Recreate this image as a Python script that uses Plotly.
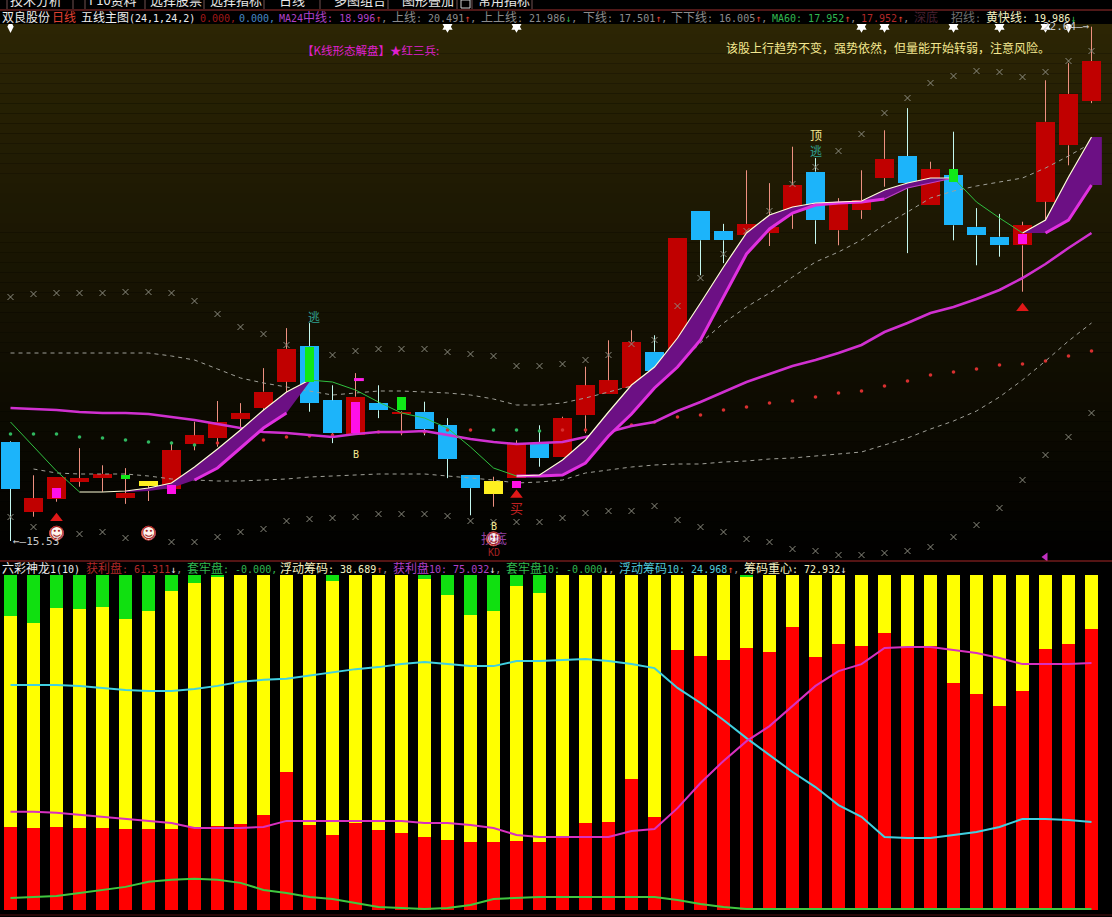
import re
import plotly.graph_objects as go

# ---------- price panel data ----------
open_ = [16.92,15.94,16.12,16.36,16.41,16.13,16.30,16.26,16.89,16.97,17.24,17.39,17.76,18.26,17.50,17.01,
         17.46,17.31,17.34,17.15,16.45,16.37,16.41,16.90,16.71,17.29,17.59,17.67,18.18,18.18,20.15,19.87,
         19.81,19.84,20.16,20.70,19.88,20.16,20.61,20.92,20.23,20.65,19.93,19.79,19.67,20.28,21.07,21.69]
close = [16.26,16.13,16.43,16.41,16.47,16.20,16.37,16.80,17.01,17.20,17.32,17.62,18.22,17.46,17.04,17.55,
         17.36,17.34,17.10,16.68,16.27,16.19,16.90,16.69,17.25,17.71,17.78,18.32,17.91,19.77,19.74,19.74,
         19.97,19.93,20.51,20.02,20.26,20.30,20.88,20.54,20.74,19.95,19.81,19.67,19.95,21.40,21.79,22.25]
high  = [16.93,16.45,16.43,16.83,16.59,16.55,16.37,16.92,17.20,17.49,17.46,17.95,18.51,18.58,17.71,17.88,
         17.71,17.35,17.48,17.25,16.45,16.43,16.94,17.15,17.27,17.97,18.34,18.48,18.41,19.77,20.15,19.97,
         20.72,20.54,21.05,20.89,20.33,20.72,21.28,21.59,20.84,21.26,20.19,20.11,20.00,21.98,22.22,22.73]
low   = [15.53,15.87,16.08,16.29,16.22,16.05,16.09,16.26,16.80,16.85,17.08,17.32,17.60,17.34,16.90,17.01,
         17.25,17.01,17.01,16.41,15.89,16.01,16.41,16.57,16.71,17.04,17.59,17.67,17.91,18.11,19.25,19.42,
         19.74,19.66,19.90,19.69,19.67,20.04,20.49,19.56,20.23,19.74,19.39,19.51,19.02,20.02,20.79,21.66]
yellow_days = [6, 21]

ma24 = [17.392,17.378,17.364,17.336,17.322,17.322,17.308,17.266,17.224,17.168,17.112,17.056,17.042,17.014,16.986,17.028,
        17.056,17.056,17.070,17.014,16.958,16.916,16.888,16.902,16.916,16.986,17.056,17.140,17.196,17.350,17.476,17.616,
        17.756,17.868,17.980,18.064,18.162,18.274,18.456,18.582,18.722,18.806,18.918,19.044,19.212,19.408,19.632,19.842]
fast = [17.196,16.846,16.510,16.216,16.216,16.230,16.272,16.342,16.566,16.818,17.084,17.364,17.616,17.784,17.756,17.644,
        17.476,17.322,17.252,17.112,16.846,16.552,16.440,16.454,16.664,16.944,17.336,17.714,17.966,18.372,18.862,19.366,
        19.842,20.094,20.206,20.262,20.276,20.290,20.444,20.542,20.612,20.612,20.276,20.052,19.842,20.024,20.626,21.186]
slow = [None,None,None,None,None,16.216,16.230,16.272,16.384,16.552,16.832,17.112,17.322,17.756,None,None,
        None,None,None,None,None,None,16.440,16.440,16.454,16.622,17.000,17.308,17.672,17.966,18.344,18.946,
        19.548,19.898,20.122,20.234,20.262,20.276,20.318,20.472,20.542,20.612,None,None,19.842,19.842,20.024,20.514]
upper = [18.162,18.162,18.162,18.162,18.162,18.162,18.162,18.120,18.064,17.938,17.812,17.742,17.686,17.630,17.574,17.602,
         17.630,17.630,17.616,17.602,17.574,17.518,17.434,17.434,17.462,17.532,17.616,17.700,17.812,17.994,18.302,18.582,
         18.806,19.002,19.226,19.436,19.576,19.744,19.954,20.136,20.332,20.430,20.500,20.556,20.612,20.752,20.920,21.102]
lower = [None,16.538,16.482,16.468,16.468,16.468,16.440,16.398,16.384,16.370,16.370,16.384,16.398,16.426,16.440,16.454,
         16.468,16.468,16.468,16.440,16.412,16.384,16.342,16.356,16.384,16.482,16.524,16.566,16.594,16.608,16.608,16.636,
         16.650,16.678,16.692,16.720,16.748,16.776,16.874,16.972,17.098,17.210,17.350,17.546,17.784,18.050,18.330,18.582]
upper2 = [18.946,18.988,19.002,19.002,19.002,19.016,19.016,19.002,18.890,18.708,18.526,18.428,18.274,18.204,18.134,18.190,
          18.218,18.218,18.218,18.176,18.148,18.120,17.980,17.980,18.008,18.064,18.134,18.288,18.344,18.820,19.212,19.548,
          19.870,20.150,20.528,20.766,20.990,21.228,21.522,21.732,21.942,22.040,22.110,22.096,22.026,22.096,22.250,22.390]
lower2 = [15.866,15.726,15.614,15.628,15.656,15.572,15.586,15.516,15.516,15.586,15.656,15.698,15.810,15.838,15.852,15.866,
          15.908,15.908,15.908,15.880,15.810,15.796,15.796,15.796,15.852,15.922,15.950,15.950,16.020,15.824,15.726,15.656,
          15.558,15.516,15.418,15.390,15.334,15.334,15.362,15.390,15.446,15.586,15.754,15.992,16.384,16.734,16.986,17.322]
ma60 = [17.028,17.028,17.028,16.986,16.972,16.944,16.916,16.902,16.874,16.902,16.902,16.944,16.986,17.000,17.014,17.056,
        17.056,17.056,17.056,17.084,17.084,17.084,17.084,17.070,17.084,17.084,17.126,17.154,17.196,17.266,17.294,17.364,
        17.406,17.462,17.490,17.546,17.602,17.630,17.700,17.770,17.854,17.896,17.938,17.994,18.008,18.050,18.120,18.190]
ma60_falling_days = [0,1,2,3,4,5,6,7,8,21,22,23]

magenta_days = [2,7,15,22,44]
magenta_top = [16.27,16.31,17.47,16.37,19.83]
magenta_bot = [16.13,16.19,17.04,16.27,19.69]
green_days = [5,13,17,41]
green_top = [16.45,18.24,17.55,20.74]
green_bot = [16.40,17.75,17.36,20.56]

star_days = [19,22,37,38,41,43,45]
diamond_days = [0,46]
rising_runs = [(3,13),(22,41),(44,47)]
falling_runs = [(0,3),(13,22),(41,44)]
ribbon_runs = [(5,13),(22,41),(44,47)]
bold_runs = [(8,12),(22,38),(45,47)]
thin_runs = [(38,41)]
buy_days = [2,22,44]; buy_price = [15.85,16.174,18.79]
smile_days = [2,6,21]; smile_price = [15.64,15.64,15.56]

# ---------- chip panel data ----------
profit = [24.8,24.5,24.8,24.5,24.5,24.2,24.2,24.2,24.8,25.1,25.7,28.4,41.2,25.4,22.4,26.0,
          23.9,23.0,21.8,20.9,20.3,20.3,20.6,20.3,22.1,26.0,26.3,39.1,27.8,77.6,75.8,74.6,
          78.2,77.0,84.5,75.5,79.4,78.8,82.7,78.5,78.8,67.8,64.5,60.9,65.4,77.9,79.4,83.9]
float_top = [87.8,85.7,90.1,89.9,90.4,86.9,89.3,95.2,97.6,99.4,100,100,100,100,98.2,100,
             100,100,98.8,94.0,88.1,89.3,96.7,94.6,100,100,100,100,100,100,100,100,
             99.4,100,100,100,100,100,100,100,100,100,100,100,100,100,100,100]
float_line = [67.2,67.2,67.2,66.9,66.3,65.7,65.4,65.4,66.0,66.9,68.1,68.7,69.0,69.9,71.0,71.9,
              72.5,73.4,74.0,73.4,72.8,72.8,74.3,74.3,74.6,74.9,74.3,73.4,72.2,66.3,61.8,56.7,
              51.3,46.3,41.2,36.7,31.3,27.8,21.8,21.5,21.5,22.4,23.3,24.8,27.2,27.2,26.9,26.3]
profit10 = [29.3,29.3,29.0,28.4,27.8,27.2,26.6,26.0,24.5,24.5,24.5,24.8,26.6,26.6,26.6,26.6,
            26.6,26.6,26.0,26.0,25.4,24.5,22.4,21.8,21.8,21.8,21.8,23.6,24.2,30.4,37.9,44.5,
            50.4,54.9,60.9,66.9,71.3,73.4,78.2,78.5,78.5,77.6,76.7,75.2,73.4,73.4,73.4,73.7]
trapped10 = [3.6,3.9,4.2,5.1,6.0,6.9,8.4,9.0,9.3,9.0,8.1,6.0,5.1,3.9,3.3,2.1,
             0.9,0.6,0.3,0.6,1.5,3.3,3.6,3.9,3.9,3.9,3.9,3.9,3.9,3.0,1.8,0.9,
             0.3,0.3,0.3,0.3,0.3,0.3,0.3,0.3,0.3,0.3,0.3,0.3,0.3,0.3,0.3,0.3]

# ---------- text ----------
menu = [(36,"技术分析"),(113,"F10资料"),(176,"选择股票"),(236,"选择指标"),(292,"日线"),(360,"多图组合"),(428,"图形叠加"),(504,"常用指标")]
menu_dividers = [7,73,85,145,204,264,320,388,457,472,532]

WHITE="#ECECEC"; GREY="#8C8C8C"; RED="#E04030"; PURPLE="#B040C8"; DRED="#B02828"; GRN="#30B850"; YEL="#F4F0C0"
row1 = [
 (1,[("双良股份",WHITE)]),(51,[("日线",RED)]),(80,[("五线主图(24,1,24,2)",WHITE)]),
 (199,[("0.000,","#A01818")]),(238,[("0.000,","#4888C8")]),
 (278,[("MA24中线: 18.996",PURPLE),("↑",RED),(",",GREY)]),
 (391,[("上线: 20.491",GREY),("↑",RED),(",",GREY)]),
 (480,[("上上线: 21.986",GREY),("↓",GRN),(",",GREY)]),
 (582,[("下线: 17.501",GREY),("↑",RED),(",",GREY)]),
 (670,[("下下线: 16.005",GREY),("↑",RED),(",",GREY)]),
 (771,[("MA60: 17.952",GRN),("↑",RED),(",",GREY)]),
 (860,[("17.952",DRED),("↑",RED),(",",GREY)]),
 (913,[("深底",  "#482030")]),(950,[("招线:", "#707070")]),
 (985,[("黄快线: 19.986",YEL),("↓",GRN)]),
]
row2 = [
 (1,[("六彩神龙1(10)",WHITE)]),
 (85,[("获利盘: 61.311",DRED),("↓",WHITE),(",",GREY)]),
 (186,[("套牢盘: -0.000,",GRN)]),
 (279,[("浮动筹码: 38.689",YEL),("↑",RED),(",",GREY)]),
 (392,[("获利盘10: 75.032",PURPLE),("↓",WHITE),(",",GREY)]),
 (505,[("套牢盘10: -0.000",GRN),("↓",WHITE),(",",GREY)]),
 (618,[("浮动筹码10: 24.968","#50C8D8"),("↑",RED),(",",GREY)]),
 (743,[("筹码重心: 72.932",YEL),("↓",WHITE)]),
]
signals = [
 (35,21.228,"顶","#F4E890",12),(35,21.004,"逃","#30A090",12),(13.2,18.68,"逃","#30A090",12),
 (15,16.748,"B","#F4E890",10),(21,15.74,"B","#F4E890",10),(21,15.586,"抄底","#9040A0",13),
 (21,15.376,"KD","#A02020",10),(22,16.006,"买","#C02020",13),
]

# ---------- layout constants ----------
W, H = 1112, 917
TOP, MID, LOW_T, LOW_B = 24, 561, 575, 910
n = len(close)
days = list(range(n))
x_range = [-10.5/23, (W-10.5)/23]
price_range = [23.104-0.014*MID, 23.104-0.014*TOP]
paper_y = lambda px: 1-px/H

def runs_mask(values, runs):
    xs, ys = [], []
    for a, b in runs:
        xs += days[a:b+1] + [None]
        ys += values[a:b+1] + [None]
    return xs, ys

CJK = re.compile(r'([^\x00-\x7f←→↑↓—]+)')
def fmt(text):
    return CJK.sub(r'<span style="font-size:12px;font-family:Noto Sans CJK SC">\1</span>', text)

fig = go.Figure()
MONO = "DejaVu Sans Mono"

# candle bodies
def body(idx, color):
    fig.add_bar(x=[days[i] for i in idx],
                y=[abs(close[i]-open_[i]) for i in idx],
                base=[min(close[i],open_[i]) for i in idx],
                width=19/23, marker=dict(color=color, line=dict(width=0)), yaxis="y", xaxis="x", showlegend=False)
is_y = set(yellow_days)
body([i for i in days if close[i]>=open_[i] and i not in is_y], "#C00000")
body([i for i in days if close[i]<open_[i] and i not in is_y], "#1CB4FA")
body(yellow_days, "#FFF020")

# wicks
def wicks(idx, color):
    xs, ys = [], []
    for i in idx:
        t, b = max(open_[i],close[i]), min(open_[i],close[i])
        if high[i] > t:
            xs += [i,i,None]; ys += [t,high[i],None]
        if low[i] < b:
            xs += [i,i,None]; ys += [b,low[i],None]
    fig.add_scatter(x=xs, y=ys, mode="lines", line=dict(color=color,width=1), showlegend=False)
wicks([i for i in days if close[i]>=open_[i] or i in is_y], "#EE9080")
wicks([i for i in days if close[i]<open_[i] and i not in is_y], "#C4F8F0")

# ma60 dots
fd = set(ma60_falling_days)
fig.add_scatter(x=days, y=ma60, mode="markers", showlegend=False,
                marker=dict(symbol="circle", size=3.6, line=dict(width=0),
                            color=["#30B860" if i in fd else "#D83030" for i in days]))

# bands
fig.add_scatter(x=days, y=upper, mode="lines", line=dict(color="#A0A098",width=1,dash="4px,4px"), showlegend=False)
fig.add_scatter(x=days, y=lower, mode="lines", line=dict(color="#A0A098",width=1,dash="4px,4px"), showlegend=False)
for s in (upper2, lower2):
    fig.add_scatter(x=days, y=s, mode="markers", showlegend=False,
                    marker=dict(symbol="x-thin", size=6, color="#8C8C80", line=dict(color="#8C8C80",width=1)))

# ma24
fig.add_scatter(x=days, y=ma24, mode="lines", line=dict(color="#D030D0",width=2.6), showlegend=False)

# ribbon
for a, b in ribbon_runs:
    xx = days[a:b+1]
    up = fast[a:b+1]; dn = slow[a:b+1]
    if b == n-1:
        xx = xx + [b+0.45]; up = up + [up[-1]]; dn = dn + [dn[-1]]
    fig.add_scatter(x=xx+xx[::-1], y=up+dn[::-1], mode="lines", fill="toself", fillcolor="#6C1084",
                    line=dict(width=0), showlegend=False)

# pink lower edge
xs, ys = runs_mask(slow, bold_runs)
fig.add_scatter(x=xs, y=ys, mode="lines", line=dict(color="#E030E0",width=3), showlegend=False)
xs, ys = runs_mask(slow, thin_runs)
fig.add_scatter(x=xs, y=ys, mode="lines", line=dict(color="#C040C8",width=1.2), showlegend=False)

# fast line
xs, ys = runs_mask(fast, rising_runs)
fig.add_scatter(x=xs, y=ys, mode="lines", line=dict(color="#FFFFD8",width=1.2), showlegend=False)
xs, ys = runs_mask(fast, falling_runs)
fig.add_scatter(x=xs, y=ys, mode="lines", line=dict(color="#30C040",width=1), showlegend=False)

# inner squares
fig.add_bar(x=magenta_days, y=[a-b for a,b in zip(magenta_top,magenta_bot)], base=magenta_bot, width=9/23, zorder=1,
            marker=dict(color="#FF10E8", line=dict(width=0)), showlegend=False)
fig.add_bar(x=green_days, y=[a-b for a,b in zip(green_top,green_bot)], base=green_bot, width=9/23, zorder=1,
            marker=dict(color="#10E818", line=dict(width=0)), showlegend=False)

# signals
fig.add_scatter(x=[15.15], y=[17.79], mode="markers", showlegend=False, zorder=2,
                marker=dict(symbol="line-ew", size=7, line=dict(color="#FF20E8",width=3)))
fig.add_scatter(x=buy_days, y=buy_price, mode="markers", showlegend=False, zorder=2,
                marker=dict(symbol="triangle-up", size=11, color="#E01818", line=dict(width=0)))
fig.add_scatter(x=[45], y=[15.306], mode="markers", showlegend=False, zorder=2,
                marker=dict(symbol="triangle-left", size=8, color="#C030C0", line=dict(width=0)))
fig.add_scatter(x=smile_days, y=smile_price, mode="markers", showlegend=False, zorder=2,
                marker=dict(symbol="circle", size=14, color="#FFF4EC", line=dict(color="#D04040",width=1)))
fig.add_scatter(x=star_days, y=[22.73]*len(star_days), mode="markers", showlegend=False, zorder=2,
                marker=dict(symbol="hexagram", size=9, color="#FFFFFF", line=dict(width=0)))
fig.add_scatter(x=diamond_days, y=[22.73]*len(diamond_days), mode="markers", showlegend=False, zorder=2,
                marker=dict(symbol="diamond-tall", size=9, color="#FFFFFF", line=dict(width=0)))

# ---------- chip panel ----------
def chip(base, top, color):
    fig.add_bar(x=days, y=[t-b for t,b in zip(top,base)], base=base, width=13/23, xaxis="x2", yaxis="y2",
                marker=dict(color=color, line=dict(width=0)), showlegend=False)
chip([0]*n, profit, "#FF0000")
chip(profit, float_top, "#FFFF00")
chip(float_top, [100]*n, "#10E010")
for s, c in ((float_line,"#40D0E0"),(profit10,"#D830C0"),(trapped10,"#40C840")):
    fig.add_scatter(x=days, y=s, mode="lines", xaxis="x2", yaxis="y2", line=dict(color=c,width=2), showlegend=False)

# ---------- background and frame ----------
shapes = []
bands = 54
for k in range(bands):
    f = k/bands
    c = (round(44*(1-f)), round(37*(1-f)), round(4*(1-f)))
    y0 = TOP+(MID-TOP)*k/bands; y1 = TOP+(MID-TOP)*(k+1)/bands
    shapes.append(dict(type="rect", layer="below", xref="paper", yref="paper", x0=0, x1=1,
                       y0=paper_y(y1), y1=paper_y(y0), fillcolor=f"rgb{c}", line=dict(width=0)))
for px, col in ((10,"#A03030"),(MID,"#A82828"),(915,"#501010")):
    shapes.append(dict(type="line", layer="above", xref="paper", yref="paper", x0=0, x1=1,
                       y0=paper_y(px), y1=paper_y(px), line=dict(color=col,width=1)))
for d in menu_dividers:
    shapes.append(dict(type="line", layer="above", xref="paper", yref="paper", x0=d/W, x1=d/W,
                       y0=paper_y(0), y1=paper_y(9), line=dict(color="#705050",width=1)))
shapes.append(dict(type="rect", layer="above", xref="paper", yref="paper", x0=461/W, x1=470/W,
                   y0=paper_y(8), y1=paper_y(0), line=dict(color="#D0D0D0",width=1)))

# ---------- annotations ----------
anns = []
for x, t in menu:
    anns.append(dict(xref="paper", yref="paper", x=x/W, y=paper_y(-1), text=t, showarrow=False, xanchor="center", yanchor="middle",
                     font=dict(family="Noto Sans CJK SC", size=13, color="#E8E8E8")))
def row(items, py):
    for x, parts in items:
        text = "".join(f'<span style="color:{c}">{fmt(s)}</span>' for s, c in parts)
        has_cjk = any(CJK.search(s) for s, _ in parts)
        anns.append(dict(xref="paper", yref="paper", x=x/W, y=paper_y(py), text=text, showarrow=False, xanchor="left",
                         yanchor="middle", align="left", borderpad=0, yshift=0 if has_cjk else -2,
                         font=dict(family=MONO, size=10, color=WHITE)))
row(row1, 17)
row(row2, 567)
anns.append(dict(xref="paper", yref="paper", x=300/W, y=paper_y(50), text="【K线形态解盘】★红三兵:", showarrow=False,
                 xanchor="left", yanchor="middle", font=dict(family="Noto Sans CJK SC", size=11.5, color="#E020D0")))
anns.append(dict(xref="paper", yref="paper", x=724/W, y=paper_y(47), text="该股上行趋势不变，强势依然，但量能开始转弱，注意风险。",
                 showarrow=False, xanchor="left", yanchor="middle", font=dict(family="Noto Sans CJK SC", size=12, color="#F4E890")))
for i, p, t, c, s in signals:
    anns.append(dict(xref="x", yref="y", x=i, y=p, text=t, showarrow=False,
                     font=dict(family="Noto Sans CJK SC" if s > 10 else MONO, size=s, color=c)))
for i, p in zip(smile_days, smile_price):
    anns.append(dict(xref="x", yref="y", x=i, y=p, text="☺", showarrow=False, font=dict(family="DejaVu Sans", size=15, color="#A02020")))
anns.append(dict(xref="x", yref="y", x=0, y=15.53, text="←—15.53", showarrow=False, xanchor="left",
                 font=dict(family=MONO, size=11, color="#C8C8C8")))
anns.append(dict(xref="x", yref="y", x=47, y=22.73, text="22.64—→", showarrow=False, xanchor="right",
                 font=dict(family=MONO, size=11, color="#C8C8C8")))

fig.update_layout(
    width=W, height=H, autosize=False, margin=dict(l=0,r=0,t=0,b=0,pad=0),
    paper_bgcolor="#000000", plot_bgcolor="rgba(0,0,0,0)", barmode="overlay", bargap=0,
    showlegend=False, shapes=shapes, annotations=anns, hovermode=False,
    xaxis=dict(domain=[0,1], range=x_range, visible=False, anchor="y", fixedrange=True),
    yaxis=dict(domain=[paper_y(MID),paper_y(TOP)], range=price_range, visible=False, anchor="x", fixedrange=True),
    xaxis2=dict(domain=[0,1], range=x_range, visible=False, anchor="y2", fixedrange=True),
    yaxis2=dict(domain=[paper_y(LOW_B),paper_y(LOW_T)], range=[0,100], visible=False, anchor="x2", fixedrange=True),
)
fig.write_html("out.html", config=dict(displayModeBar=False),
               post_script="document.body.style.margin='0';document.body.style.background='#000';document.body.style.overflow='hidden';")
